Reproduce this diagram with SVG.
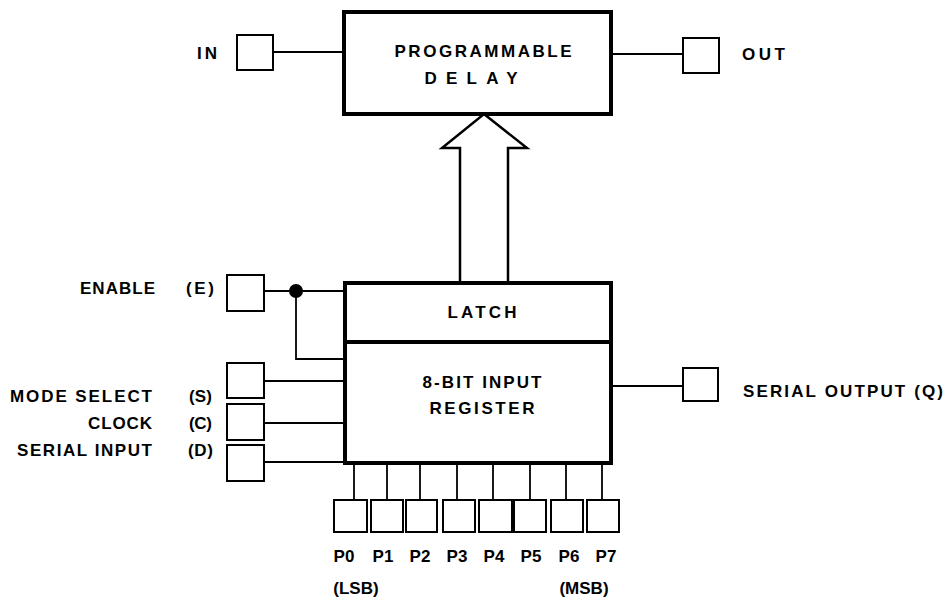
<svg xmlns="http://www.w3.org/2000/svg" width="946" height="602" viewBox="0 0 946 602">
<style>
  .box { fill: none; stroke: #000; stroke-width: 4; }
  .sq { fill: #fff; stroke: #000; stroke-width: 2; }
  .ln { fill: none; stroke: #000; stroke-width: 1.8; }
  text { font-family: "Liberation Sans", Arial, sans-serif; font-weight: bold; font-size: 17px; fill: #000; }
  .c { text-anchor: middle; }
  .r { text-anchor: end; }
</style>
<rect width="946" height="602" fill="#fff"/>

<g id="connectors">
  <line class="ln" x1="273" y1="52" x2="344" y2="52"/>
  <line class="ln" x1="611" y1="54" x2="683" y2="54"/>
  <line class="ln" x1="264" y1="291" x2="345" y2="291"/>
  <polyline class="ln" points="296,291 296,359 345,359"/>
  <circle cx="296" cy="291" r="7" fill="#000"/>
  <line class="ln" x1="264" y1="381" x2="345" y2="381"/>
  <line class="ln" x1="264" y1="423" x2="345" y2="423"/>
  <line class="ln" x1="264" y1="462" x2="345" y2="462"/>
  <line class="ln" x1="611" y1="386" x2="683" y2="386"/>
  <line class="ln" x1="354" y1="463" x2="354" y2="500"/>
  <line class="ln" x1="387" y1="463" x2="387" y2="500"/>
  <line class="ln" x1="420" y1="463" x2="420" y2="500"/>
  <line class="ln" x1="457" y1="463" x2="457" y2="500"/>
  <line class="ln" x1="493" y1="463" x2="493" y2="500"/>
  <line class="ln" x1="530" y1="463" x2="530" y2="500"/>
  <line class="ln" x1="566" y1="463" x2="566" y2="500"/>
  <line class="ln" x1="602" y1="463" x2="602" y2="500"/>
  <polygon points="484,114 527,148 508,148 508,283 460,283 460,148 442,148" fill="#fff" stroke="#000" stroke-width="2.5" stroke-linejoin="miter"/>
</g>

<g id="delay">
  <rect class="box" x="344" y="12" width="267" height="102" fill="#fff"/>
  <text class="c" x="483" y="57" textLength="177" lengthAdjust="spacing">PROGRAMMABLE</text>
  <text class="c" x="471" y="84" textLength="93" lengthAdjust="spacing">DELAY</text>
</g>

<g id="in">
  <rect class="sq" x="237" y="35" width="36" height="35"/>
  <text x="197" y="59" textLength="20" lengthAdjust="spacing">IN</text>
</g>

<g id="out">
  <rect class="sq" x="683" y="38" width="36" height="35"/>
  <text x="742" y="60" textLength="43" lengthAdjust="spacing">OUT</text>
</g>

<g id="register">
  <rect class="box" x="345" y="283" width="266" height="180"/>
  <line x1="345" y1="342" x2="611" y2="342" stroke="#000" stroke-width="4"/>
  <text class="c" x="482" y="318" textLength="69" lengthAdjust="spacing">LATCH</text>
  <text class="c" x="482" y="388" textLength="119" lengthAdjust="spacing">8-BIT INPUT</text>
  <text class="c" x="482" y="414" textLength="105" lengthAdjust="spacing">REGISTER</text>
</g>

<g id="enable">
  <rect class="sq" x="227" y="275" width="37" height="36"/>
  <text x="80" y="294" textLength="75" lengthAdjust="spacing">ENABLE</text>
  <text x="186" y="294" textLength="28" lengthAdjust="spacing">(E)</text>
</g>

<g id="mode">
  <rect class="sq" x="227" y="363" width="37" height="35"/>
  <text x="10" y="402" textLength="142" lengthAdjust="spacing">MODE SELECT</text>
  <text x="189" y="402" textLength="23" lengthAdjust="spacing">(S)</text>
</g>

<g id="clock">
  <rect class="sq" x="227" y="404" width="37" height="36"/>
  <text x="88" y="429" textLength="64" lengthAdjust="spacing">CLOCK</text>
  <text x="189" y="429" textLength="23" lengthAdjust="spacing">(C)</text>
</g>

<g id="serialin">
  <rect class="sq" x="227" y="445" width="37" height="36"/>
  <text x="17" y="456" textLength="135" lengthAdjust="spacing">SERIAL INPUT</text>
  <text x="188" y="456" textLength="25" lengthAdjust="spacing">(D)</text>
</g>

<g id="serialout">
  <rect class="sq" x="683" y="368" width="35" height="33"/>
  <text x="743" y="397" textLength="200" lengthAdjust="spacing">SERIAL OUTPUT (Q)</text>
</g>

<g id="p0"><rect class="sq" x="334" y="500" width="33" height="32"/><text class="c" x="344" y="562">P0</text><text class="c" x="356" y="594">(LSB)</text></g>
<g id="p1"><rect class="sq" x="371" y="500" width="32" height="32"/><text class="c" x="383" y="562">P1</text></g>
<g id="p2"><rect class="sq" x="406" y="500" width="31" height="32"/><text class="c" x="420" y="562">P2</text></g>
<g id="p3"><rect class="sq" x="443" y="500" width="32" height="32"/><text class="c" x="457" y="562">P3</text></g>
<g id="p4"><rect class="sq" x="479" y="500" width="33" height="32"/><text class="c" x="494" y="562">P4</text></g>
<g id="p5"><rect class="sq" x="514" y="500" width="32" height="32"/><text class="c" x="531" y="562">P5</text></g>
<g id="p6"><rect class="sq" x="551" y="500" width="32" height="32"/><text class="c" x="569" y="562">P6</text><text class="c" x="584" y="594">(MSB)</text></g>
<g id="p7"><rect class="sq" x="587" y="500" width="32" height="32"/><text class="c" x="606" y="562">P7</text></g>
</svg>
